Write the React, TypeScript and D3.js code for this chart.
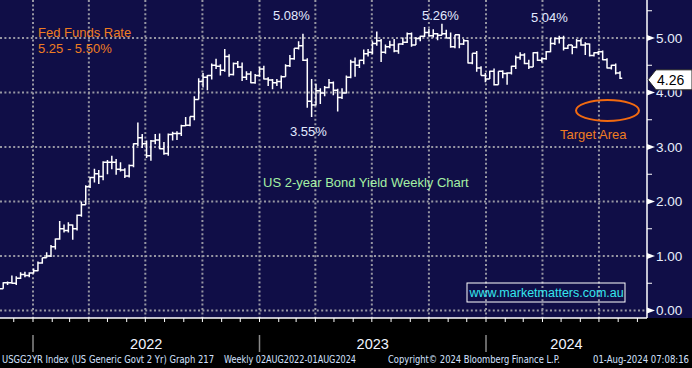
import React from 'react';
import * as d3 from 'd3';

const W = 692;
const H = 368;
const plotRight = 647;
const plotBottom = 318;

// weekly bars, week ending Friday, 05NOV2021 .. 02AUG2024
const weekEnds = d3.timeFriday.range(new Date(2021, 10, 5), new Date(2024, 7, 3));

const barOpen = [
  0.50, 0.40, 0.51, 0.51, 0.50, 0.59, 0.66, 0.64, 0.69,
  0.73, 0.87, 0.97, 1.00, 1.17, 1.31, 1.50, 1.47, 1.57, 1.50, 1.75, 1.94, 2.27, 2.44, 2.51, 2.46, 2.72,
  2.72, 2.72, 2.59, 2.58, 2.47, 2.66, 3.06, 3.17, 3.06, 2.84, 3.11, 3.13, 2.97, 2.88, 3.23, 3.25, 3.25,
  3.39, 3.40, 3.56, 3.87, 4.20, 4.28, 4.31, 4.50, 4.48, 4.41, 4.66, 4.33, 4.53, 4.47, 4.28, 4.34, 4.18, 4.31,
  4.43, 4.25, 4.23, 4.18, 4.20, 4.29, 4.49, 4.62, 4.81, 4.86, 4.59, 3.84, 3.77, 4.03, 3.99, 4.09, 4.18,
  4.04, 3.91, 3.99, 4.28, 4.56, 4.50, 4.59, 4.71, 4.74, 4.90, 4.95, 4.74, 4.84, 4.87, 4.76, 4.89, 4.92,
  5.08, 4.87, 4.99, 5.03, 5.10, 5.04, 5.08, 5.05, 5.08, 5.00, 4.84, 5.06, 4.89, 4.95, 4.54, 4.72, 4.45, 4.31,
  4.25, 4.39, 4.14, 4.39, 4.35, 4.36, 4.48, 4.64, 4.69, 4.53, 4.47, 4.73, 4.59, 4.62, 4.75, 4.90, 4.99,
  5.00, 4.81, 4.87, 4.83, 4.95, 4.87, 4.89, 4.68, 4.73, 4.75, 4.60, 4.45, 4.50, 4.36,
];

const barHigh = [
  0.54, 0.52, 0.53, 0.64, 0.63, 0.70, 0.71, 0.70, 0.77,
  0.90, 0.97, 1.07, 1.20, 1.32, 1.64, 1.58, 1.62, 1.58, 1.76, 2.00, 2.30, 2.45, 2.60, 2.58, 2.74, 2.76,
  2.84, 2.78, 2.72, 2.61, 2.68, 3.07, 3.45, 3.24, 3.12, 3.13, 3.24, 3.25, 3.09, 3.25, 3.28, 3.29, 3.41,
  3.55, 3.56, 3.93, 4.26, 4.36, 4.32, 4.53, 4.62, 4.52, 4.80, 4.70, 4.55, 4.58, 4.55, 4.39, 4.39, 4.34, 4.47,
  4.49, 4.28, 4.25, 4.25, 4.31, 4.52, 4.69, 4.81, 4.94, 5.08, 4.63, 4.25, 4.16, 4.08, 4.12, 4.25, 4.20,
  4.07, 4.08, 4.31, 4.60, 4.64, 4.60, 4.79, 4.80, 4.94, 5.12, 4.98, 4.88, 4.95, 4.98, 4.90, 5.01, 5.10,
  5.10, 5.02, 5.04, 5.20, 5.17, 5.16, 5.09, 5.26, 5.15, 5.10, 5.06, 5.07, 4.98, 4.96, 4.72, 4.76, 4.48, 4.36,
  4.40, 4.44, 4.39, 4.41, 4.37, 4.49, 4.68, 4.74, 4.72, 4.60, 4.74, 4.75, 4.64, 4.76, 5.00, 5.01, 5.04,
  5.04, 4.87, 4.87, 4.98, 4.99, 4.92, 4.90, 4.74, 4.76, 4.77, 4.63, 4.51, 4.53, 4.39,
];

const barLow = [
  0.39, 0.40, 0.47, 0.49, 0.47, 0.58, 0.61, 0.61, 0.68,
  0.72, 0.86, 0.97, 0.98, 1.12, 1.30, 1.43, 1.43, 1.30, 1.47, 1.72, 1.94, 2.25, 2.35, 2.32, 2.39, 2.50,
  2.59, 2.49, 2.55, 2.43, 2.44, 2.63, 3.02, 2.98, 2.80, 2.75, 3.05, 2.96, 2.86, 2.84, 3.12, 3.13, 3.20,
  3.38, 3.38, 3.49, 3.87, 4.09, 4.04, 4.24, 4.43, 4.31, 4.38, 4.29, 4.31, 4.45, 4.21, 4.23, 4.17, 4.16, 4.29,
  4.24, 4.12, 4.06, 4.12, 4.07, 4.29, 4.47, 4.60, 4.79, 4.58, 3.72, 3.55, 3.76, 3.79, 3.93, 4.08, 3.95,
  3.65, 3.88, 3.98, 4.26, 4.29, 4.45, 4.52, 4.66, 4.70, 4.86, 4.56, 4.71, 4.81, 4.74, 4.71, 4.87, 4.91,
  4.84, 4.87, 4.94, 5.02, 5.03, 5.01, 4.96, 5.05, 5.00, 4.82, 4.81, 4.81, 4.87, 4.53, 4.52, 4.38, 4.31, 4.19,
  4.25, 4.13, 4.14, 4.26, 4.14, 4.33, 4.43, 4.60, 4.52, 4.43, 4.47, 4.58, 4.55, 4.60, 4.74, 4.87, 4.90,
  4.77, 4.80, 4.70, 4.81, 4.86, 4.69, 4.66, 4.66, 4.69, 4.59, 4.44, 4.42, 4.33, 4.25,
];

const barClose = [
  0.40, 0.51, 0.51, 0.50, 0.59, 0.66, 0.64, 0.69, 0.73,
  0.87, 0.97, 1.00, 1.17, 1.31, 1.50, 1.47, 1.57, 1.50, 1.75, 1.94, 2.27, 2.44, 2.51, 2.46, 2.72, 2.72,
  2.72, 2.59, 2.58, 2.47, 2.66, 3.06, 3.17, 3.06, 2.84, 3.11, 3.13, 2.97, 2.88, 3.23, 3.25, 3.25, 3.39,
  3.40, 3.56, 3.87, 4.20, 4.28, 4.31, 4.50, 4.48, 4.41, 4.66, 4.33, 4.53, 4.47, 4.28, 4.34, 4.18, 4.31, 4.43,
  4.25, 4.23, 4.18, 4.20, 4.29, 4.49, 4.62, 4.81, 4.86, 4.59, 3.84, 3.77, 4.03, 3.99, 4.09, 4.18, 4.04,
  3.91, 3.99, 4.28, 4.56, 4.50, 4.59, 4.71, 4.74, 4.90, 4.95, 4.74, 4.84, 4.87, 4.76, 4.89, 4.92, 5.08,
  4.87, 4.99, 5.03, 5.10, 5.04, 5.08, 5.05, 5.08, 5.00, 4.84, 5.06, 4.89, 4.95, 4.54, 4.72, 4.45, 4.31, 4.25,
  4.39, 4.14, 4.39, 4.35, 4.36, 4.48, 4.64, 4.69, 4.53, 4.47, 4.73, 4.59, 4.62, 4.75, 4.90, 4.99, 5.00,
  4.81, 4.87, 4.83, 4.95, 4.87, 4.89, 4.68, 4.73, 4.75, 4.60, 4.45, 4.50, 4.36, 4.26,
];

const yTicks = [0, 1, 2, 3, 4, 5];
const yMinor = [0.5, 1.5, 2.5, 3.5, 4.5, 5.5];
const years = [2022, 2023, 2024];

const peakLabels = [
  { text: '5.08%', x: 273, y: 20 },
  { text: '3.55%', x: 290, y: 136 },
  { text: '5.26%', x: 422, y: 20 },
  { text: '5.04%', x: 531, y: 22 },
];

const footer = [
  { text: 'USGG2YR Index (US Generic Govt 2 Yr) Graph 217', x: 2, w: 212 },
  { text: 'Weekly 02AUG2022-01AUG2024', x: 224, w: 132 },
  { text: 'Copyright© 2024 Bloomberg Finance L.P.', x: 388, w: 172 },
  { text: '01-Aug-2024 07:08:16', x: 593, w: 96 },
];

const font = 'Liberation Sans, Arial, sans-serif';
const narrow = 'Liberation Sans Narrow, Arial Narrow, DejaVu Sans Condensed, sans-serif';
const gridColor = '#9797a3';

export default function App() {
  const x = d3.scaleTime()
    .domain([new Date(2022, 0, 1), new Date(2024, 0, 1)])
    .range([33, 486]);
  const y = d3.scaleLinear().domain([0, 5]).range([310.5, 38]);

  const quarters = d3.timeMonth.every(3)!.range(new Date(2022, 0, 1), new Date(2024, 8, 1));
  const months = d3.timeMonth.range(new Date(2021, 11, 1), new Date(2024, 8, 2));

  const tick = 2.2;
  const barPath = weekEnds.map((d, i) => {
    // bar sits at the weekend that closes the week
    const bx = x(d3.timeDay.offset(d, 2));
    return `M${bx},${y(barHigh[i])}V${y(barLow[i])}` +
      `M${bx - tick},${y(barOpen[i])}H${bx}` +
      `M${bx},${y(barClose[i])}H${bx + tick}`;
  }).join('');

  const last = barClose[barClose.length - 1];
  const tagY = y(last) + 1.5;

  return (
    <svg width={W} height={H} style={{ position: 'absolute', left: 0, top: 0, display: 'block' }}
      fontFamily={font}>
      <defs>
        <clipPath id="plot"><rect x={0} y={0} width={plotRight} height={plotBottom} /></clipPath>
      </defs>
      <rect x={0} y={0} width={W} height={H} fill="#000" />
      <rect x={0} y={0} width={W} height={plotBottom} fill="#100e47" />

      {/* grid */}
      <g stroke={gridColor} strokeWidth={2} strokeDasharray="2 2.4">
        {yTicks.map(t => (
          <line key={t} x1={0} x2={plotRight} y1={y(t)} y2={y(t)} />
        ))}
        {quarters.map(q => (
          <line key={+q} x1={x(q)} x2={x(q)} y1={0} y2={plotBottom} />
        ))}
      </g>

      {/* bars */}
      <path d={barPath} clipPath="url(#plot)" stroke="#fff" strokeWidth={1.5} fill="none" />

      {/* annotations */}
      <text x={38} y={37} fontSize={13} fill="#ef7d22">Fed Funds Rate</text>
      <text x={38} y={53} fontSize={13} fill="#ef7d22">5.25 - 5.50%</text>
      {peakLabels.map(p => (
        <text key={p.text} x={p.x} y={p.y} fontSize={13} fill="#e2eaff">{p.text}</text>
      ))}
      <text x={263} y={187} fontSize={13} fill="#a4f0a4">US 2-year Bond Yield Weekly Chart</text>
      <ellipse cx={607.5} cy={110.5} rx={31.5} ry={10.5} fill="none" stroke="#f26a10" strokeWidth={2} />
      <text x={560} y={139} fontSize={13} fill="#ef7d22">Target Area</text>
      <rect x={467} y={283} width={158} height={19} fill="none" stroke="#fff" strokeWidth={1} />
      <text x={469.5} y={297} fontSize={12.5} fill="#35e6ee">www.marketmatters.com.au</text>

      {/* right axis */}
      <line x1={plotRight} x2={plotRight} y1={0} y2={plotBottom} stroke="#fff" strokeWidth={1.5} />
      {yMinor.map(t => (
        <line key={t} x1={plotRight} x2={plotRight + 5} y1={y(t)} y2={y(t)} stroke="#fff" strokeWidth={1} />
      ))}
      {yTicks.map(t => (
        <g key={t}>
          <path d={`M${plotRight},${y(t) - 3}L${plotRight + 8},${y(t)}L${plotRight},${y(t) + 3}Z`} fill="#fff" />
          <text x={656} y={y(t)} dy="0.36em" fontSize={13.5} fill="#e8eefc">{t.toFixed(2)}</text>
        </g>
      ))}
      <path d={`M648,${tagY}L656,${tagY - 10}H692V${tagY + 10}H656Z`} fill="#fff" stroke="#222" strokeWidth={1} />
      <text x={657} y={tagY} dy="0.35em" fontSize={14} fill="#000">{last.toFixed(2)}</text>

      {/* bottom axis */}
      <line x1={0} x2={plotRight} y1={plotBottom} y2={plotBottom} stroke="#fff" strokeWidth={1.5} />
      {months.map(m => (
        <line key={+m} x1={x(m)} x2={x(m)} y1={plotBottom} y2={plotBottom + 4} stroke="#fff" strokeWidth={1} />
      ))}
      {years.map(yr => {
        const s = x(new Date(yr, 0, 1));
        const e = Math.min(x(new Date(yr + 1, 0, 1)), plotRight);
        return (
          <g key={yr}>
            <line x1={s} x2={s} y1={335} y2={352} stroke="#8a8a8a" strokeWidth={1.5} />
            <text x={(s + e) / 2} y={349} textAnchor="middle" fontSize={14.5} fill="#f0f4ff">{yr}</text>
          </g>
        );
      })}

      {/* footer */}
      <g fontFamily={narrow} fontSize={10.5} fill="#d4e2ff">
        {footer.map(f => (
          <text key={f.text} x={f.x} y={363} textLength={f.w} lengthAdjust="spacingAndGlyphs">{f.text}</text>
        ))}
      </g>
    </svg>
  );
}
